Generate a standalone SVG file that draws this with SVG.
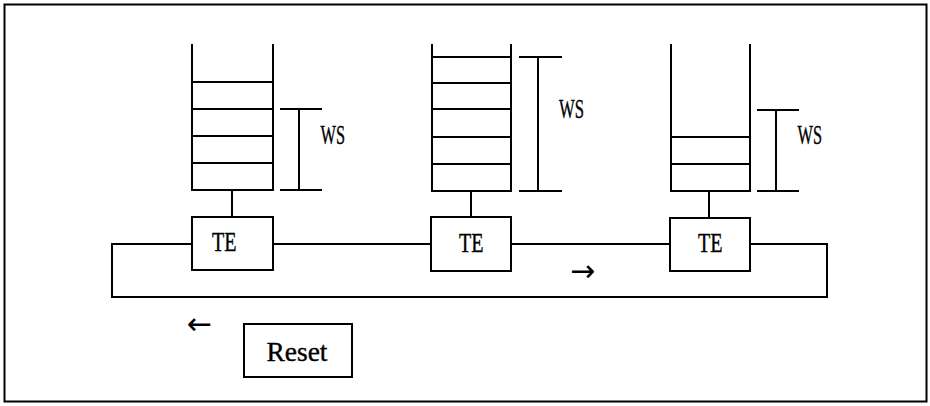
<svg xmlns="http://www.w3.org/2000/svg" width="930" height="406" viewBox="0 0 930 406">
<style>
.ln{stroke:#000;stroke-width:2;fill:none}
.bx{stroke:#000;stroke-width:2;fill:#fff}
.t{font-family:"Liberation Serif","Times New Roman",serif;font-size:27px;fill:#000;stroke:#000;stroke-width:0.4}
.a{font-family:"DejaVu Sans",sans-serif;font-size:30px;fill:#000}
</style>
<rect x="0" y="0" width="930" height="406" fill="#fff"/>
<rect id="frame" class="ln" x="4.5" y="4.5" width="922" height="397"/>
<g id="connectors">
<polyline class="ln" points="192,244 112,244 112,297 827,297 827,244 750,244"/>
<line class="ln" x1="273" y1="244" x2="431" y2="244"/>
<line class="ln" x1="511" y1="244" x2="670" y2="244"/>
<line class="ln" x1="232" y1="190" x2="232" y2="217"/>
<line class="ln" x1="471" y1="190" x2="471" y2="217"/>
<line class="ln" x1="709" y1="191" x2="709" y2="218"/>
</g>
<g id="stack1">
<polyline class="ln" points="192,44 192,190 273,190 273,44"/>
<path class="ln" d="M192,82H273M192,109H273M192,136H273M192,163H273"/>
<path class="ln" d="M280,109H322M280,190H322M299,109V190"/>
<text class="t" x="320.5" y="143.5" textLength="24.5" lengthAdjust="spacingAndGlyphs">WS</text>
</g>
<g id="stack2">
<polyline class="ln" points="432,44 432,191 511,191 511,44"/>
<path class="ln" d="M432,57H511M432,83H511M432,109H511M432,137H511M432,164H511"/>
<path class="ln" d="M519,57H562M519,191H562M538,57V191"/>
<text class="t" x="559" y="118" textLength="25" lengthAdjust="spacingAndGlyphs">WS</text>
</g>
<g id="stack3">
<polyline class="ln" points="671,44 671,191 750,191 750,44"/>
<path class="ln" d="M671,137H750M671,164H750"/>
<path class="ln" d="M757,110H799M757,191H799M776,110V191"/>
<text class="t" x="797.5" y="144" textLength="24.5" lengthAdjust="spacingAndGlyphs">WS</text>
</g>
<g id="te1">
<rect class="bx" x="192" y="217" width="81" height="53"/>
<text class="t" x="212" y="251" textLength="24.5" lengthAdjust="spacingAndGlyphs">TE</text>
</g>
<g id="te2">
<rect class="bx" x="431" y="217" width="80" height="54"/>
<text class="t" x="459" y="252" textLength="24.5" lengthAdjust="spacingAndGlyphs">TE</text>
</g>
<g id="te3">
<rect class="bx" x="670" y="218" width="80" height="53"/>
<text class="t" x="698" y="252" textLength="24.5" lengthAdjust="spacingAndGlyphs">TE</text>
</g>
<g id="arrows">
<text class="a" x="570" y="281">→</text>
<text class="a" x="187" y="334">←</text>
</g>
<g id="reset">
<rect class="bx" x="244" y="324" width="108" height="53"/>
<text class="t" x="266.5" y="360.5" textLength="61" lengthAdjust="spacingAndGlyphs">Reset</text>
</g>
</svg>
